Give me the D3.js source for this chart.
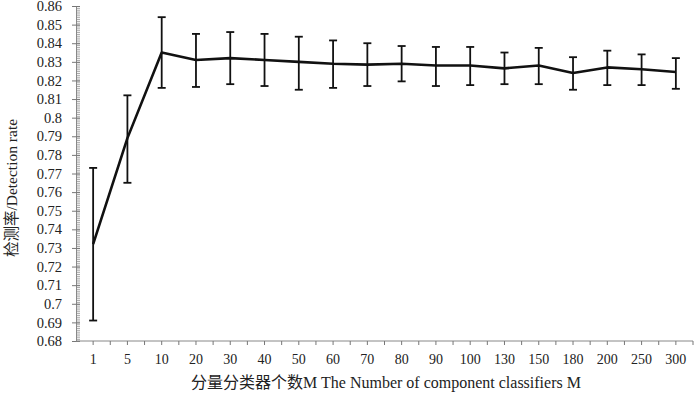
<!DOCTYPE html>
<html>
<head>
<meta charset="utf-8">
<script src="https://cdn.jsdelivr.net/npm/d3@7"></script>
<style>
  body { margin: 0; background: #fff; }
  text { font-family: "Liberation Serif", "Noto Sans CJK SC", serif; fill: #222; }
</style>
</head>
<body>
<div id="chart"></div>
<script>
// component classifier counts (categories)
var categories = ['1', '5', '10', '20', '30', '40', '50', '60', '70', '80', '90', '100', '130', '150', '180', '200', '250', '300'];
// mean detection rate
var rate = [0.732, 0.789, 0.835, 0.831, 0.832, 0.831, 0.830, 0.829, 0.8285, 0.829, 0.828, 0.828, 0.8265, 0.828, 0.824, 0.827, 0.826, 0.8245];
// error bar ends
var upper = [0.773, 0.812, 0.854, 0.845, 0.846, 0.845, 0.8435, 0.8415, 0.840, 0.8385, 0.838, 0.838, 0.835, 0.8375, 0.8325, 0.836, 0.834, 0.832];
var lower = [0.691, 0.765, 0.816, 0.8165, 0.818, 0.817, 0.815, 0.816, 0.817, 0.8195, 0.817, 0.8175, 0.818, 0.818, 0.815, 0.8175, 0.8175, 0.8155];
var yTicks = d3.range(68, 87).map(function(d) { return d / 100; });

var width = 700, height = 400;
var plot = {left: 76, right: 693, top: 6, bottom: 341};

var svg = d3.select('#chart').append('svg')
    .attr('width', width)
    .attr('height', height);

var x = d3.scaleBand()
    .domain(categories)
    .range([plot.left, plot.right])
    .padding(0);

var y = d3.scaleLinear()
    .domain([0.68, 0.86])
    .range([plot.bottom, plot.top]);

// minor y ticks
var minor = d3.range(680, 861).map(function(d) { return d / 1000; });
svg.append('g')
    .attr('transform', 'translate(' + plot.left + ',0)')
    .call(d3.axisLeft(y).tickValues(minor).tickSize(-4).tickFormat(''))
    .call(function(g) {
        g.select('.domain').remove();
        g.selectAll('line').attr('stroke', '#aaa');
    });

// y axis
svg.append('g')
    .attr('transform', 'translate(' + plot.left + ',0)')
    .call(d3.axisLeft(y).tickValues(yTicks).tickSize(4).tickSizeOuter(0).tickPadding(10).tickFormat(d3.format('.2~f')))
    .call(function(g) {
        g.select('.domain').attr('stroke', '#888');
        g.selectAll('.tick line').attr('stroke', '#777').attr('x2', 4).attr('x1', -4);
        g.selectAll('text').style('font-size', '14.5px').style('fill', '#222');
    });

// x axis
svg.append('g')
    .attr('transform', 'translate(0,' + plot.bottom + ')')
    .call(d3.axisBottom(x).tickSize(4).tickSizeOuter(0).tickPadding(9))
    .call(function(g) {
        g.select('.domain').attr('stroke', '#888').attr('d', 'M' + plot.left + ',0H' + plot.right);
        g.selectAll('.tick line').attr('stroke', '#777');
        g.selectAll('text').style('font-size', '14px').style('fill', '#222');
    });

// tick marks between categories
svg.append('g').selectAll('line')
    .data(categories.slice(1).concat(['end']))
    .enter().append('line')
    .attr('x1', function(d) { return d === 'end' ? plot.right : x(d); })
    .attr('x2', function(d) { return d === 'end' ? plot.right : x(d); })
    .attr('y1', plot.bottom)
    .attr('y2', plot.bottom + 4)
    .attr('stroke', '#777');

// error bars
var bars = svg.append('g').selectAll('g')
    .data(categories)
    .enter().append('g');

bars.append('line')
    .attr('x1', function(d) { return x(d) + x.bandwidth() / 2; })
    .attr('x2', function(d) { return x(d) + x.bandwidth() / 2; })
    .attr('y1', function(d, i) { return y(upper[i]); })
    .attr('y2', function(d, i) { return y(lower[i]); })
    .attr('stroke', '#111')
    .attr('stroke-width', 1.8);

bars.selectAll('.cap')
    .data(function(d, i) { return [{c: d, v: upper[i]}, {c: d, v: lower[i]}]; })
    .enter().append('line')
    .attr('class', 'cap')
    .attr('x1', function(d) { return x(d.c) + x.bandwidth() / 2 - 4; })
    .attr('x2', function(d) { return x(d.c) + x.bandwidth() / 2 + 4; })
    .attr('y1', function(d) { return y(d.v); })
    .attr('y2', function(d) { return y(d.v); })
    .attr('stroke', '#111')
    .attr('stroke-width', 1.8);

// mean line
var line = d3.line()
    .x(function(d, i) { return x(categories[i]) + x.bandwidth() / 2; })
    .y(function(d) { return y(d); });

svg.append('path')
    .datum(rate)
    .attr('d', line)
    .attr('fill', 'none')
    .attr('stroke', '#111')
    .attr('stroke-width', 2.6)
    .attr('stroke-linejoin', 'round');

// axis titles
svg.append('text')
    .attr('x', 386)
    .attr('y', 388)
    .attr('text-anchor', 'middle')
    .style('font-size', '16px')
    .text('分量分类器个数M The Number of component classifiers M');

svg.append('text')
    .attr('transform', 'translate(17,188) rotate(-90)')
    .attr('text-anchor', 'middle')
    .style('font-size', '15.5px')
    .text('检测率/Detection rate');
</script>
</body>
</html>
